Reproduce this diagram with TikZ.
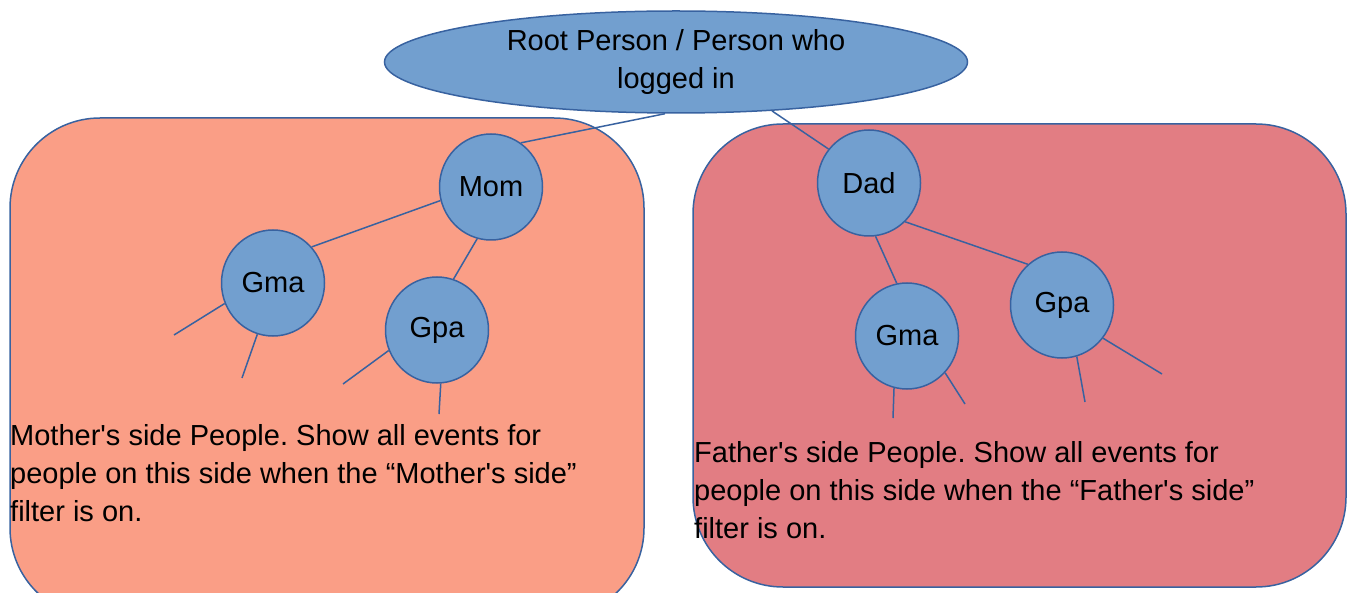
\documentclass[tikz,border=0pt]{standalone}
\usepackage{fontspec}
\setmainfont{Liberation Sans}
\usepackage{xcolor}
\usepackage{tikz}
\usetikzlibrary{shapes.geometric}
\definecolor{nodeblue}{RGB}{114,159,207}
\definecolor{edgeblue}{RGB}{56,98,160}
\definecolor{momside}{RGB}{250,158,134}
\definecolor{dadside}{RGB}{226,125,131}
\frenchspacing

\begin{document}
\begin{tikzpicture}[x=1pt,y=-1pt,
		person/.style={ellipse, fill=nodeblue, draw=edgeblue, line width=1.5pt, inner sep=0pt, minimum width=103pt, minimum height=106pt, font=\fontsize{29}{34}\selectfont},
		link/.style={draw=edgeblue, line width=1.5pt},
		sidebox/.style={draw=edgeblue, line width=1.5pt, rounded corners=90pt},
		sidetext/.style={anchor=north west, align=left, inner sep=0pt, font=\fontsize{29}{38}\selectfont}]
		\useasboundingbox (0,0) rectangle (1348,593);

		% Mother's side and father's side areas
		\draw [sidebox, fill=momside] (10,118) rectangle (644,618);
		\draw [sidebox, fill=dadside] (693,124) rectangle (1346,587);

		% Root person
		\node (Root) at (676,62) [ellipse, fill=nodeblue, draw=edgeblue, line width=1.5pt, inner sep=0pt, minimum width=583pt, minimum height=102pt, align=center, font=\fontsize{29}{38}\selectfont] {Root Person / Person who\\logged in};

		% Mother's side
		\node (P_Mom) at (491,187) [person] {Mom};
		\node (GM_M) at (273,283) [person] {Gma};
		\node (GP_M) at (437,330) [person] {Gpa};

		% Father's side
		\node (P_Dad) at (869,183) [person] {Dad};
		\node (GM_F) at (907,336) [person] {Gma};
		\node (GP_F) at (1062,305) [person] {Gpa};

		% Loose ends of the tree
		\coordinate (GM_M_a) at (174,335);
		\coordinate (GM_M_b) at (242,378);
		\coordinate (GP_M_a) at (343,384);
		\coordinate (GP_M_b) at (439,414);
		\coordinate (GM_F_a) at (893,418);
		\coordinate (GM_F_b) at (965,404);
		\coordinate (GP_F_a) at (1085,402);
		\coordinate (GP_F_b) at (1162,374);

		% Connections between the people
		\draw [link] (Root.258) -- (P_Mom.56);
		\draw [link] (Root.333) -- (P_Dad.140);
		\draw [link] (P_Mom.195) -- (GM_M.43);
		\draw [link] (P_Mom.255) -- (GP_M.72);
		\draw [link] (P_Dad.277) -- (GM_F.101);
		\draw [link] (P_Dad.313) -- (GP_F.130);
		\draw [link] (GM_M.203) -- (GM_M_a);
		\draw [link] (GM_M.253) -- (GM_M_b);
		\draw [link] (GP_M.203) -- (GP_M_a);
		\draw [link] (GP_M.274) -- (GP_M_b);
		\draw [link] (GM_F.256) -- (GM_F_a);
		\draw [link] (GM_F.316) -- (GM_F_b);
		\draw [link] (GP_F.286) -- (GP_F_a);
		\draw [link] (GP_F.321) -- (GP_F_b);

		% Descriptions of the two sides
		\node (T_Mom) at (10,424) [sidetext] {Mother\textquotesingle s side People. Show all events for\\people on this side when the “Mother\textquotesingle s side”\\filter is on.};
		\node (T_Dad) at (694,441) [sidetext] {Father\textquotesingle s side People. Show all events for\\people on this side when the “Father\textquotesingle s side”\\filter is on.};
	\end{tikzpicture}
\end{document}
